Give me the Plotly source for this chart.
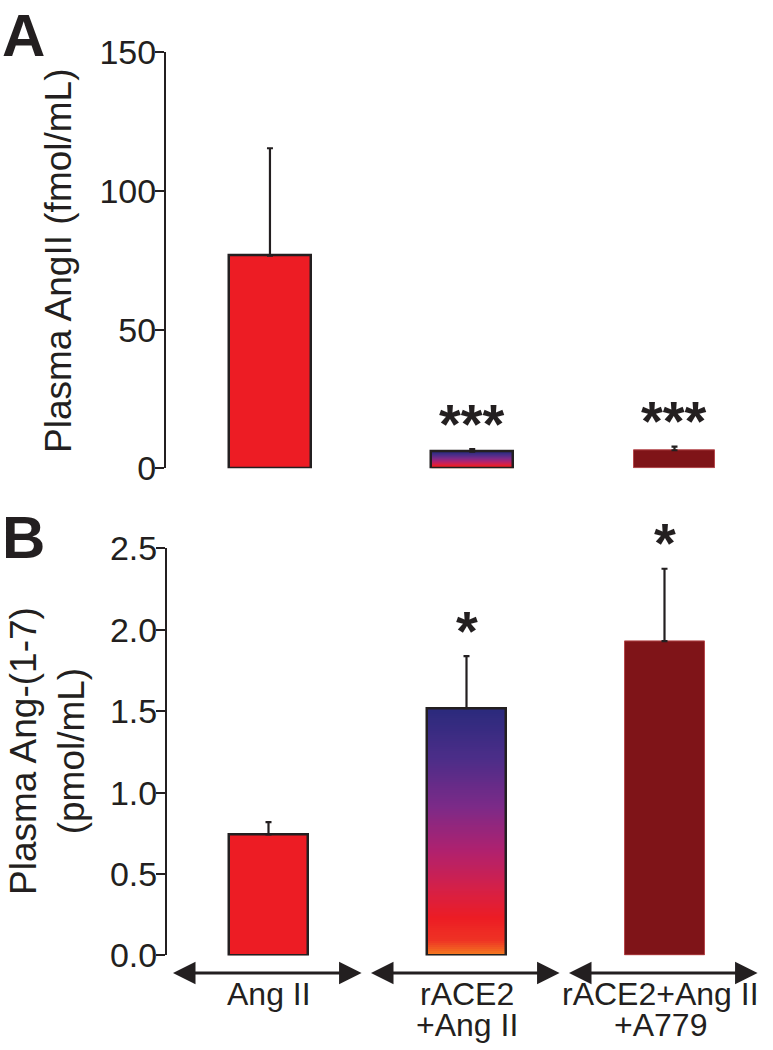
import numpy as np
import plotly.graph_objects as go

# groups
line1 = ["Ang II", "rACE2", "rACE2+Ang II"]
line2 = ["", "+Ang II", "+A779"]
xpos = [0, 1, 2]

# panel A: plasma Ang II (fmol/mL), mean and upper SEM
angii_mean = [76.7, 6.0, 6.5]
angii_err = [38.7, 0.95, 1.3]
angii_sig = ["", "***", "***"]

# panel B: plasma Ang-(1-7) (pmol/mL)
ang17_mean = [0.744, 1.519, 1.931]
ang17_err = [0.075, 0.319, 0.444]
ang17_sig = ["", "*", "*"]

INK = "#231F20"
FONT = "Liberation Sans, Arial, sans-serif"
fill_cols = ["#ED1C24", "rgba(0,0,0,0)", "#7F1418"]
edge_cols = [INK, INK, "#B5474B"]
edge_w = [2.5, 2.5, 1]
grad = [[0.0, "#F47B20"], [0.06, "#EE3324"], [0.15, "#ED1C24"], [0.27, "#D42048"],
        [0.42, "#B0216E"], [0.6, "#7C2A88"], [0.8, "#4B2D88"], [1.0, "#2A2A7C"]]
BW = 0.404

W, H = 773, 1050


def px_x(p):
    return p / W


def px_y(p):
    return 1 - p / H


fig = go.Figure()


def add_panel(mean, err, xa, ya):
    # gradient fill for the rACE2 bar, under the outline bar
    i = 1
    n = 120
    yedges = np.linspace(0, mean[i], n + 1)
    zc = ((yedges[:-1] + yedges[1:]) / 2 / mean[i]).reshape(-1, 1)
    zc = np.hstack([zc, zc])
    fig.add_trace(go.Heatmap(x=[xpos[i] - BW / 2, xpos[i], xpos[i] + BW / 2], y=yedges, z=zc,
                             colorscale=grad, zmin=0, zmax=1, showscale=False,
                             hoverinfo="skip", xaxis=xa, yaxis=ya))
    fig.add_trace(go.Bar(x=xpos, y=mean, width=BW, xaxis=xa, yaxis=ya,
                         marker=dict(color=fill_cols, line=dict(color=edge_cols, width=edge_w)),
                         error_y=dict(type="data", array=err, arrayminus=[0, 0, 0], symmetric=False,
                                      color=INK, thickness=2.2, width=3),
                         showlegend=False))


add_panel(angii_mean, angii_err, "x", "y")
add_panel(ang17_mean, ang17_err, "x2", "y2")

yax = dict(showline=True, linecolor=INK, linewidth=2, ticks="outside", ticklen=9, tickwidth=2,
           tickcolor=INK, showgrid=False, zeroline=False, automargin=False,
           tickfont=dict(size=34, color=INK, family=FONT), ticklabelstandoff=-8)

fig.update_layout(
    template="none", autosize=False,
    width=W, height=H, margin=dict(l=0, r=0, t=0, b=0, pad=0),
    plot_bgcolor="white", paper_bgcolor="white", showlegend=False, bargap=0,
    xaxis=dict(domain=[px_x(166), 1], range=[-0.514, (W - 270) / 202.25], visible=False,
               anchor="y", automargin=False),
    yaxis=dict(domain=[px_y(468.3), px_y(52.3)], range=[0, 150], tickvals=[0, 50, 100, 150],
               anchor="x", **yax),
    xaxis2=dict(domain=[px_x(167), 1], range=[-0.5126, (W - 268.5) / 198], visible=False,
                anchor="y2", automargin=False),
    yaxis2=dict(domain=[px_y(955.4), px_y(548.4)], range=[0, 2.5],
                tickvals=[0, 0.5, 1.0, 1.5, 2.0, 2.5], tickformat=".1f", anchor="x2", **yax),
)

ann = []
# panel letters
ann.append(dict(text="<b>A</b>", x=px_x(0), y=px_y(0), xref="paper", yref="paper", xanchor="left",
                yanchor="top", showarrow=False, font=dict(size=60, color=INK, family=FONT)))
ann.append(dict(text="<b>B</b>", x=px_x(0), y=px_y(502), xref="paper", yref="paper", xanchor="left",
                yanchor="top", showarrow=False, font=dict(size=60, color=INK, family=FONT)))
# axis titles
ann.append(dict(text="Plasma AngII (fmol/mL)", x=px_x(58), y=px_y(261), xref="paper", yref="paper",
                xanchor="center", yanchor="middle",
                textangle=-90, showarrow=False, font=dict(size=37, color=INK, family=FONT)))
ann.append(dict(text="Plasma Ang-(1-7)<br>(pmol/mL)", x=px_x(47), y=px_y(751), xref="paper",
                yref="paper", textangle=-90, showarrow=False, xanchor="center", yanchor="middle",
                font=dict(size=37, color=INK, family=FONT)))
# significance stars
for i in xpos:
    if angii_sig[i]:
        ann.append(dict(text="<b>" + angii_sig[i] + "</b>", x=xpos[i], y=angii_mean[i] + angii_err[i],
                        xref="x", yref="y", yanchor="middle", yshift=26, showarrow=False,
                        font=dict(size=56, color=INK, family=FONT)))
    if ang17_sig[i]:
        ann.append(dict(text="<b>" + ang17_sig[i] + "</b>", x=xpos[i], y=ang17_mean[i] + ang17_err[i],
                        xref="x2", yref="y2", yanchor="middle", yshift=26, showarrow=False,
                        font=dict(size=56, color=INK, family=FONT)))
# group arrows and labels
for i in xpos:
    ann.append(dict(text="", x=xpos[i] + 0.47, y=px_y(973), xref="x2", yref="paper",
                    ax=xpos[i] - 0.49, ay=0, axref="x2", ayref="pixel", showarrow=True,
                    arrowside="end+start", arrowhead=2, arrowsize=1.5, arrowwidth=3, arrowcolor=INK))
    sh = -4 if i == 2 else 0
    ann.append(dict(text=line1[i], x=xpos[i], y=px_y(974), xref="x2", yref="paper", yanchor="top",
                    xshift=sh, showarrow=False, font=dict(size=32, color=INK, family=FONT)))
    if line2[i]:
        ann.append(dict(text=line2[i], x=xpos[i], y=px_y(1005), xref="x2", yref="paper", yanchor="top",
                        xshift=sh, showarrow=False, font=dict(size=32, color=INK, family=FONT)))
fig.update_layout(annotations=ann)

# drop the browser's default body margin so the figure fills the window
fig.write_html("out.html", config={"displayModeBar": False},
               post_script="document.body.style.margin='0px';")
